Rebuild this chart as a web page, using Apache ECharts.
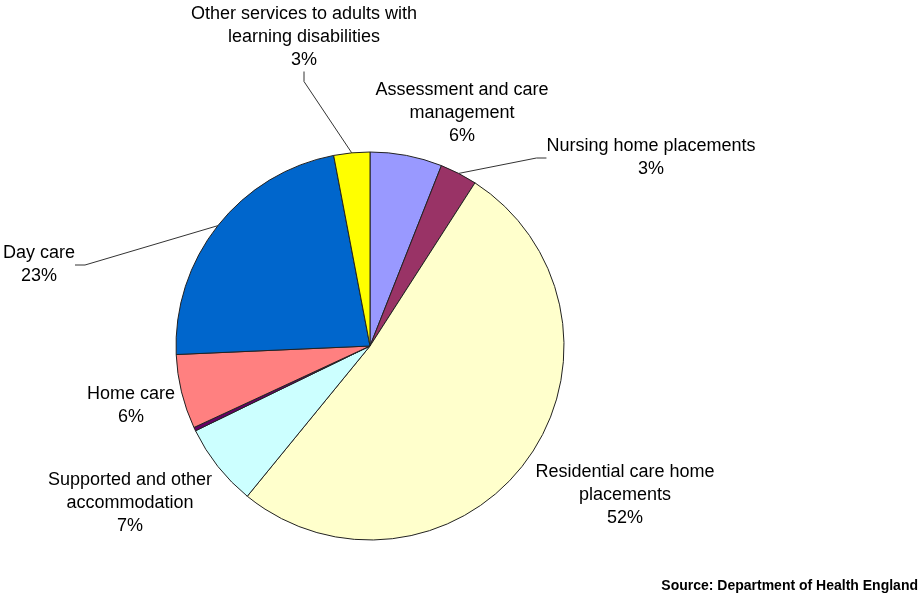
<!DOCTYPE html>
<html>
<head>
<meta charset="utf-8">
<script src="https://cdn.jsdelivr.net/npm/echarts@6/dist/echarts.min.js"></script>
<style>
  html, body { margin: 0; padding: 0; background: #fff; }
  #chart { width: 921px; height: 596px; }
</style>
</head>
<body>
<div id="chart"></div>
<script>
  // slices, clockwise from 12 o'clock
  var names = [
    "Assessment and care\nmanagement",
    "Nursing home placements",
    "Residential care home\nplacements",
    "Supported and other\naccommodation",
    "Meals",
    "Home care",
    "Day care",
    "Other services to adults with\nlearning disabilities"
  ];
  var values = [6.0, 3.1, 51.8, 6.9, 0.3, 6.2, 22.7, 3.0];
  var colors = ["#9999ff", "#993366", "#ffffcc", "#ccffff", "#660066", "#ff8080", "#0066cc", "#ffff00"];
  var showLabel = [true, true, true, true, false, true, true, true];
  var showLine = [false, true, false, false, false, false, true, true];
  var source = "Source: Department of Health England";

  // label centres (layout only)
  var labelPos = [
    [462, 113], [651, 158], [625, 495], [130, 503], [0, 0], [131, 406], [39, 265], [304, 37]
  ];

  var chartDom = echarts.init(document.getElementById("chart"));

  var seriesData = values.map(function (v, i) {
    return {
      name: names[i],
      value: v,
      itemStyle: { color: colors[i] },
      label: { show: showLabel[i] },
      labelLine: { show: showLine[i] }
    };
  });

  var option = {
    backgroundColor: "#fff",
    animation: false,
    graphic: [{
      type: "text",
      right: 3,
      bottom: 3,
      style: {
        text: source,
        font: "bold 14px 'Liberation Sans', Arial, sans-serif",
        fill: "#000"
      }
    }],
    series: [{
      type: "pie",
      center: [370, 346],
      radius: 194,
      startAngle: 90,
      clockwise: true,
      avoidLabelOverlap: false,
      itemStyle: { borderColor: "#222", borderWidth: 1 },
      emphasis: { disabled: true },
      label: {
        position: "outside",
        color: "#000",
        fontFamily: "'Liberation Sans', Arial, sans-serif",
        fontSize: 18,
        lineHeight: 23,
        align: "center",
        formatter: function (p) {
          return p.name + "\n" + Math.round(p.percent) + "%";
        }
      },
      labelLine: {
        length: 10,
        length2: 10,
        lineStyle: { color: "#333", width: 1 }
      },
      labelLayout: function (p) {
        var pos = labelPos[p.dataIndex];
        return { x: pos[0], y: pos[1], align: "center", verticalAlign: "middle" };
      },
      data: seriesData
    }]
  };

  chartDom.setOption(option);
</script>
</body>
</html>
